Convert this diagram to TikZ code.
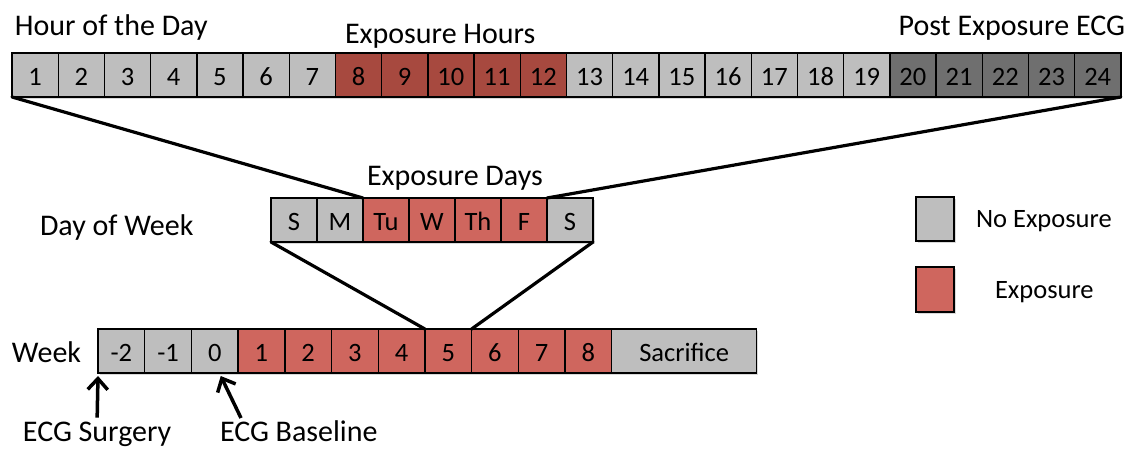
\documentclass[tikz,border=0pt]{standalone}
\usepackage{fontspec}
\setmainfont{Carlito}
\usetikzlibrary{shadows,arrows.meta}

\definecolor{gryA}{HTML}{BEBEBE}
\definecolor{gryD}{HTML}{6F6F6F}
\definecolor{redD}{HTML}{A7493F}
\definecolor{redL}{HTML}{CF665E}

\tikzset{
  cell/.style={draw=black, line width=1.4pt, inner sep=0pt, outer sep=0pt,
    anchor=north west, minimum height=44pt,
    font=\fontsize{26.5}{30}\selectfont, text height=21pt, text depth=0pt,
    drop shadow={shadow xshift=1.5pt, shadow yshift=-2pt, opacity=0.3}},
  title/.style={inner sep=0pt, outer sep=0pt, font=\fontsize{30}{36}\selectfont},
  lbl/.style={inner sep=0pt, outer sep=0pt, font=\fontsize{26.5}{30}\selectfont},
  zoomline/.style={line width=3.2pt, line cap=round},
  arr/.style={line width=3.5pt, -{Straight Barb[length=11pt,width=20pt,line width=3.5pt]}}
}

\begin{document}
\begin{tikzpicture}[x=1pt,y=-1pt]
\useasboundingbox (0,0) rectangle (1128,450);

% hours of the day
\foreach \i/\c in {1/gryA,2/gryA,3/gryA,4/gryA,5/gryA,6/gryA,7/gryA,
                   8/redD,9/redD,10/redD,11/redD,12/redD,
                   13/gryA,14/gryA,15/gryA,16/gryA,17/gryA,18/gryA,19/gryA,
                   20/gryD,21/gryD,22/gryD,23/gryD,24/gryD}
  \node[cell, fill=\c, minimum width=46.2pt] (h\i) at ({12+(\i-1)*46.2},53) {\i};

% days of the week
\foreach \j/\t/\c in {1/S/gryA,2/M/gryA,3/Tu/redL,4/W/redL,5/Th/redL,6/F/redL,7/S/gryA}
  \node[cell, fill=\c, minimum width=46pt] (d\j) at ({271+(\j-1)*46},198) {\t};

% weeks
\foreach \k/\t/\c in {1/-2/gryA,2/-1/gryA,3/0/gryA,4/1/redL,5/2/redL,6/3/redL,
                      7/4/redL,8/5/redL,9/6/redL,10/7/redL,11/8/redL}
  \node[cell, fill=\c, minimum width=46.7pt] (w\k) at ({98+(\k-1)*46.7},329) {\t};
\node[cell, fill=gryA, minimum width=145pt] (sac) at (611.7,329) {Sacrifice};

% zoom connectors
\draw[zoomline] (h1.south west) -- (d3.north west);
\draw[zoomline] (h24.south east) -- (d6.north east);
\draw[zoomline] (d1.south west) -- (w8.north west);
\draw[zoomline] (d7.south east) -- (w8.north east);

% titles
\node[title, anchor=base west] (hod) at (15,35) {Hour of the Day};
\node[title, anchor=base west] (exh) at (345,43) {Exposure Hours};
\node[title, anchor=base east] (pec) at (1125,35) {Post Exposure ECG};
\node[title, anchor=base west] (exd) at (367,185) {Exposure Days};
\node[title, anchor=base west] (dow) at (40,235) {Day of Week};
\node[title, anchor=base west] (wk) at (12,362) {Week};
\node[title, anchor=base west] (sur) at (23,441) {ECG Surgery};
\node[title, anchor=base west] (bas) at (220,441) {ECG Baseline};

% event arrows
\coordinate (bt) at (241,418);
\draw[arr] ([yshift=4pt]sur.north) -- ([yshift=-3pt]w1.south west);
\draw[arr] (bt) -- ([xshift=6pt,yshift=-3pt]w3.south);

% legend
\node[cell, fill=gryA, minimum width=38pt, minimum height=44pt] (lg1) at (916,197) {};
\node[cell, fill=redL, minimum width=38pt, minimum height=45pt] (lg2) at (916,267) {};
\node[lbl, anchor=base west] (lt1) at (976,227) {No Exposure};
\node[lbl, anchor=base west] (lt2) at (995,298) {Exposure};
\end{tikzpicture}
\end{document}
